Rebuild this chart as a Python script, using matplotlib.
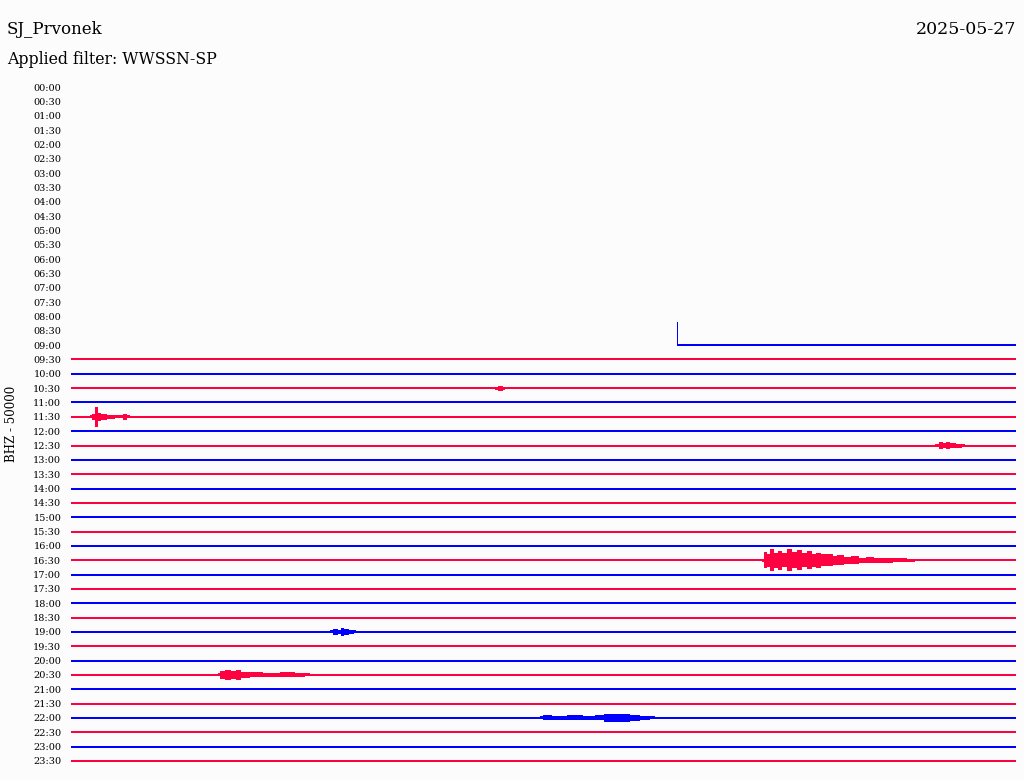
import matplotlib
matplotlib.use("Agg")
import matplotlib.pyplot as plt
import numpy as np

# helicorder settings
station = "SJ_Prvonek"
day = "2025-05-27"
filter_name = "WWSSN-SP"
channel_label = "BHZ - 50000"
row_scale = 50000  # counts per row spacing

# row labels (half hour lines)
row_labels = ["%02d:%02d" % (h, m) for h in range(24) for m in (0, 30)]

# first sample of the day arrives inside the 09:00 row (minutes into that row)
first_row = "09:00"
first_minute = 19.24
first_step = 80000  # counts, the jump at the start of the record

# rows holding data, from 09:00 down to 23:30
data_rows = ["09:00", "09:30", "10:00", "10:30", "11:00", "11:30", "12:00", "12:30",
             "13:00", "13:30", "14:00", "14:30", "15:00", "15:30", "16:00", "16:30",
             "17:00", "17:30", "18:00", "18:30", "19:00", "19:30", "20:00", "20:30",
             "21:00", "21:30", "22:00", "22:30", "23:00", "23:30"]

# events: minutes into the row and envelope half-width (counts)
ev_1030_min = [13.46, 13.62, 13.78]
ev_1030_amp = [5200, 8700, 5200]

ev_1130_min = [0.60, 0.73, 0.79, 0.84, 0.89, 1.02, 1.24, 1.56, 1.71, 1.87]
ev_1130_amp = [5200, 10500, 35000, 35000, 14000, 10500, 7000, 5200, 10500, 5200]

ev_1230_min = [27.43, 27.65, 27.74, 27.84, 28.00, 28.22, 28.38]
ev_1230_amp = [5200, 12200, 9000, 12900, 8700, 7000, 5200]

ev_1630_min = [21.94, 22.06, 22.16, 22.25, 22.38, 22.51, 22.66, 22.82, 22.98, 23.14,
               23.30, 23.46, 23.58, 23.71, 23.90, 24.10, 24.25, 24.41, 24.65, 24.89,
               25.13, 25.37, 25.60, 25.84, 26.32, 26.79]
ev_1630_amp = [5200, 28000, 22000, 38000, 26000, 33000, 24000, 38000, 27000, 35000,
               25000, 31000, 22000, 26000, 20000, 21000, 15000, 17500, 12000, 14000,
               9000, 10500, 8000, 8700, 7000, 5200]

ev_1900_min = [8.22, 8.41, 8.54, 8.63, 8.73, 8.92, 9.05]
ev_1900_amp = [5200, 10500, 7000, 14000, 10500, 7000, 5200]

ev_2030_min = [4.67, 4.79, 4.98, 5.17, 5.30, 5.52, 5.84, 6.32, 6.95, 7.27, 7.59]
ev_2030_amp = [5200, 14000, 19000, 15500, 17500, 10500, 8700, 7000, 8700, 7000, 5200]

ev_2200_min = [14.89, 15.05, 15.52, 16.00, 16.48, 16.79, 17.02, 17.27, 17.59, 17.90, 18.22, 18.54]
ev_2200_amp = [5200, 8700, 7000, 8700, 7000, 8700, 14000, 15500, 14000, 10500, 7000, 5200]

events = [("10:30", ev_1030_min, ev_1030_amp),
          ("11:30", ev_1130_min, ev_1130_amp),
          ("12:30", ev_1230_min, ev_1230_amp),
          ("16:30", ev_1630_min, ev_1630_amp),
          ("19:00", ev_1900_min, ev_1900_amp),
          ("20:30", ev_2030_min, ev_2030_amp),
          ("22:00", ev_2200_min, ev_2200_amp)]

BLUE = "#0000ff"
RED = "#ff0040"
BG = "#fcfcfc"


def row_color(label):
    return BLUE if label.endswith(":00") else RED


fig = plt.figure(figsize=(10.24, 7.8), dpi=100, facecolor=BG)
ax = fig.add_axes([71 / 1024, 1 - 770 / 780, 945 / 1024, 690 / 780])
ax.set_facecolor(BG)

row_px = (761 - 87) / 47.0
ax.set_xlim(0, 30)
ax.set_ylim((770 - 87) / row_px, (80 - 87) / row_px)

idx = {lab: i for i, lab in enumerate(row_labels)}

# baseline traces (2 px, no antialiasing like the bitmap)
for lab in data_rows:
    i = idx[lab]
    x0 = first_minute if lab == first_row else 0
    ax.plot([x0, 30], [i, i], color=row_color(lab), lw=1.44, solid_capstyle="butt",
            antialiased=False)

# start of the record
i0 = idx[first_row]
ax.vlines(first_minute, i0 - first_step / row_scale, i0, color=BLUE, lw=0.72,
          antialiased=False)

# events, drawn as blocky columns
for lab, mins, amps in events:
    i = idx[lab]
    a = np.array(amps) / row_scale
    ax.fill_between(mins, i - a, i + a, step="mid", color=row_color(lab), lw=0,
                    antialiased=False)

ax.set_yticks(range(len(row_labels)))
ax.set_yticklabels(row_labels, fontsize=7, family="DejaVu Serif")
ax.tick_params(axis="y", length=0, pad=7)
ax.set_xticks([])
for s in ax.spines.values():
    s.set_visible(False)

fig.text(7 / 1024, 1 - 30 / 780, station, fontsize=12, family="DejaVu Serif",
         ha="left", va="center")
fig.text(1016 / 1024, 1 - 30 / 780, day, fontsize=12.5, family="DejaVu Serif",
         ha="right", va="center")
fig.text(7 / 1024, 1 - 60 / 780, "Applied filter: " + filter_name, fontsize=11.3,
         family="DejaVu Serif", ha="left", va="center")
fig.text(12 / 1024, 1 - 424 / 780, channel_label, fontsize=8.5, family="DejaVu Serif",
         rotation=90, ha="center", va="center")

fig.savefig("out.png", dpi=100, facecolor=fig.get_facecolor())
